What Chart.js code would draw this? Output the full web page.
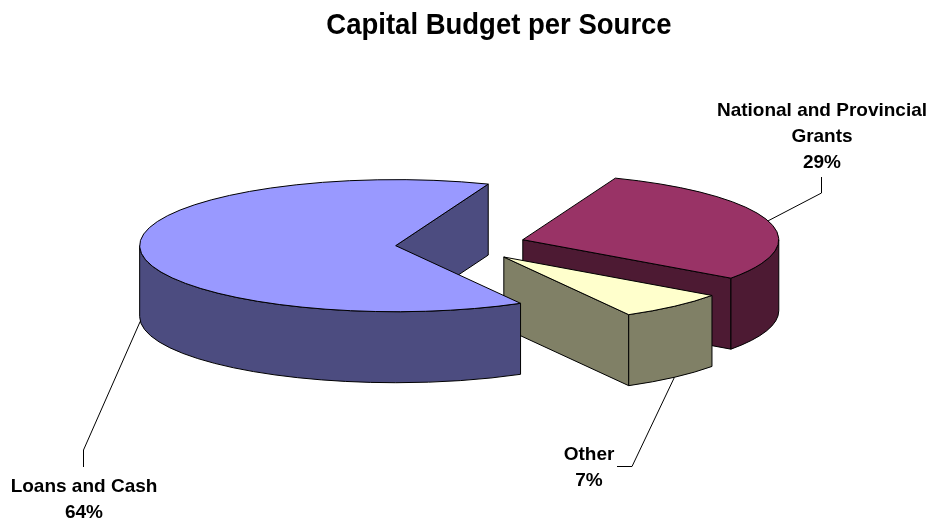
<!DOCTYPE html>
<html>
<head>
<meta charset="utf-8">
<title>Capital Budget per Source</title>
<script src="https://cdn.jsdelivr.net/npm/chart.js@4.4.1/dist/chart.umd.min.js"></script>
<style>
  html, body { margin: 0; padding: 0; background: #fff; }
  canvas { display: block; }
</style>
</head>
<body>
<canvas id="budgetChart" width="930" height="519"></canvas>
<script>
// capital budget split by funding source (percent)
const chartTitle = 'Capital Budget per Source';
const categories = ['Loans and Cash', 'National and Provincial Grants', 'Other'];
const shares = [64, 29, 7];
const topColors = ['#9999FF', '#993366', '#FFFFCC'];
const sideColors = ['#4C4C80', '#4D1A33', '#808066'];

const FONT = 'Arial, "Liberation Sans", sans-serif';
const TAU = Math.PI * 2;

// 3D look: squash the pie, pull the slices apart and hang walls under them
const tilt = 0.258;
const depth = 71;
const explode = 65;
const drawOrder = [1, 2, 0]; // back to front

// label anchors (center x, first baseline) and the elbow of each leader line
const labelSpots = [
  { x: 84, y: 492, elbow: [[83.5, 450], [83.5, 467]] },
  { x: 822, y: 116, elbow: [[821.5, 193], [821.5, 177]] },
  { x: 589, y: 460, elbow: [[632, 466.5], [617, 466.5]] }
];

function sliceGeom(arc) {
  const mid = (arc.startAngle + arc.endAngle) / 2;
  return {
    a0: arc.startAngle,
    a1: arc.endAngle,
    mid: mid,
    r: arc.outerRadius,
    ry: arc.outerRadius * tilt,
    px: arc.x + explode * Math.cos(mid),
    py: arc.y + explode * Math.sin(mid) * tilt
  };
}

function cutWall(ctx, g, a) {
  const ex = g.px + g.r * Math.cos(a);
  const ey = g.py + g.ry * Math.sin(a);
  ctx.beginPath();
  ctx.moveTo(g.px, g.py);
  ctx.lineTo(ex, ey);
  ctx.lineTo(ex, ey + depth);
  ctx.lineTo(g.px, g.py + depth);
  ctx.closePath();
  ctx.fill();
  ctx.stroke();
}

function wrapText(ctx, text, maxWidth) {
  const words = text.split(' ');
  const lines = [];
  let line = '';
  words.forEach(function(w) {
    const test = line ? line + ' ' + w : w;
    if (line && ctx.measureText(test).width > maxWidth) {
      lines.push(line);
      line = w;
    } else {
      line = test;
    }
  });
  if (line) lines.push(line);
  return lines;
}

const pie3d = {
  id: 'pie3d',
  beforeDatasetsDraw(chart) {
    const ctx = chart.ctx;
    const arcs = chart.getDatasetMeta(0).data;
    ctx.save();
    ctx.lineWidth = 1;
    ctx.strokeStyle = '#000';
    ctx.lineJoin = 'round';

    drawOrder.forEach(function(i) {
      const arc = arcs[i];
      const g = sliceGeom(arc);
      ctx.fillStyle = sideColors[i];

      // cut faces that turn towards the viewer
      if (Math.cos(g.a0) < 0) cutWall(ctx, g, g.a0);
      if (Math.cos(g.a1) > 0) cutWall(ctx, g, g.a1);

      // outer rim, only the front half is visible
      for (let k = Math.floor(g.a0 / TAU) - 1; k <= Math.ceil(g.a1 / TAU); k++) {
        const lo = Math.max(g.a0, k * TAU);
        const hi = Math.min(g.a1, k * TAU + Math.PI);
        if (hi <= lo) continue;
        ctx.beginPath();
        ctx.ellipse(g.px, g.py, g.r, g.ry, 0, lo, hi, false);
        ctx.lineTo(g.px + g.r * Math.cos(hi), g.py + g.ry * Math.sin(hi) + depth);
        ctx.ellipse(g.px, g.py + depth, g.r, g.ry, 0, hi, lo, true);
        ctx.closePath();
        ctx.fill();
        ctx.stroke();
      }

      // top face: the arc itself, squashed
      ctx.save();
      ctx.translate(g.px, g.py);
      ctx.scale(1, tilt);
      ctx.translate(-arc.x, -arc.y);
      arc.draw(ctx);
      ctx.restore();

      ctx.beginPath();
      ctx.moveTo(g.px, g.py);
      ctx.ellipse(g.px, g.py, g.r, g.ry, 0, g.a0, g.a1, false);
      ctx.closePath();
      ctx.stroke();
    });

    // data labels with leader lines
    const values = chart.data.datasets[0].data;
    const total = values.reduce(function(s, v) { return s + v; }, 0);
    ctx.font = 'bold 19px ' + FONT;
    ctx.fillStyle = '#000';
    ctx.textAlign = 'center';
    ctx.textBaseline = 'alphabetic';
    arcs.forEach(function(arc, i) {
      const g = sliceGeom(arc);
      const front = Math.sin(g.mid) > 0;
      const sx = g.px + g.r * Math.cos(g.mid);
      const sy = g.py + g.ry * Math.sin(g.mid) + (front ? depth : 0);
      const spot = labelSpots[i];
      ctx.beginPath();
      ctx.moveTo(sx, sy);
      spot.elbow.forEach(function(p) { ctx.lineTo(p[0], p[1]); });
      ctx.stroke();

      const lines = wrapText(ctx, chart.data.labels[i], 220);
      lines.push(Math.round(values[i] / total * 100) + '%');
      lines.forEach(function(t, j) {
        ctx.fillText(t, spot.x, spot.y + j * 26);
      });
    });

    ctx.restore();
    return false;
  },
  afterDraw(chart) {
    // title, a little taller than the plain font
    const ctx = chart.ctx;
    ctx.save();
    ctx.translate(499, 33.5);
    ctx.scale(1, 1.1);
    ctx.font = 'bold 27.5px ' + FONT;
    ctx.fillStyle = '#000';
    ctx.textAlign = 'center';
    ctx.textBaseline = 'alphabetic';
    ctx.fillText(chartTitle, 0, 0);
    ctx.restore();
  }
};

new Chart(document.getElementById('budgetChart'), {
  type: 'pie',
  data: {
    labels: categories,
    datasets: [{
      data: shares,
      backgroundColor: topColors,
      borderWidth: 0
    }]
  },
  options: {
    responsive: false,
    animation: false,
    events: [],
    rotation: 150.8,
    radius: 256,
    layout: { padding: { left: 0, right: 9, top: 0, bottom: 30 } },
    plugins: {
      legend: { display: false },
      tooltip: { enabled: false },
      title: { display: false }
    }
  },
  plugins: [pie3d]
});
</script>
</body>
</html>
